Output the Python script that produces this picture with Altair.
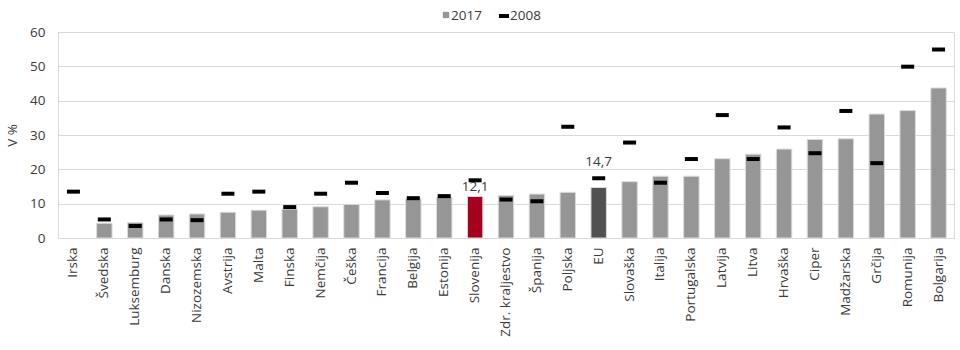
import altair as alt
import pandas as pd

countries = ["Irska", "Švedska", "Luksemburg", "Danska", "Nizozemska", "Avstrija", "Malta",
             "Finska", "Nemčija", "Češka", "Francija", "Belgija", "Estonija", "Slovenija",
             "Zdr. kraljestvo", "Španija", "Poljska", "EU", "Slovaška", "Italija", "Portugalska",
             "Latvija", "Litva", "Hrvaška", "Ciper", "Madžarska", "Grčija", "Romunija", "Bolgarija"]
v2017 = [None, 4.3, 4.5, 6.7, 7.0, 7.5, 8.1, 8.4, 9.1, 9.8, 11.1, 11.4, 11.9, 12.1,
         12.4, 12.8, 13.3, 14.7, 16.4, 18.0, 18.0, 23.1, 24.4, 25.9, 28.7, 28.9, 36.1, 37.1, 43.7]
v2008 = [13.5, 5.4, 3.5, 5.4, 5.2, 12.9, 13.5, 9.0, 12.9, 16.1, 13.1, 11.6, 12.2, 16.8,
         11.2, 10.7, 32.4, 17.4, 27.8, 16.1, 23.0, 35.8, 23.0, 32.2, 24.7, 37.0, 21.8, 49.9, 54.9]
y_ticks = [0, 10, 20, 30, 40, 50, 60]

df = pd.DataFrame({"country": countries, "v2017": v2017, "v2008": v2008})
df["label"] = df["v2017"].map(lambda v: "" if pd.isna(v) else f"{v:.1f}".replace(".", ","))

FONT = "Open Sans"
TXT = "#3a3a3a"

x_axis = alt.Axis(labelAngle=-90, labelFont=FONT, labelFontSize=13.5, labelColor=TXT,
                  ticks=False, domain=False, labelPadding=9, labelBaseline="middle")
x_scale = alt.Scale(paddingInner=0.5, paddingOuter=0.25)
y_axis = alt.Axis(values=y_ticks, labelFont=FONT, labelFontSize=13.5, labelColor=TXT,
                  ticks=False, domain=False, gridColor="#d9d9d9", labelPadding=13,
                  titleFont=FONT, titleFontSize=13.5, titleColor=TXT,
                  titleFontWeight="normal", titlePadding=10)
y_scale = alt.Scale(domain=[0, 60], nice=False)


def X():
    return alt.X("country:N", sort=countries, title=None, scale=x_scale, axis=x_axis)


def Y(field):
    return alt.Y(field, title="V %", scale=y_scale, axis=y_axis)


bar_color = (alt.when(alt.datum.country == "Slovenija").then(alt.value("#A5001E"))
             .when(alt.datum.country == "EU").then(alt.value("#515151"))
             .otherwise(alt.value("#969696")))

base = alt.Chart(df)
bars = base.mark_bar(stroke="#dcdcdc", strokeWidth=1).encode(x=X(), y=Y("v2017:Q"), color=bar_color)
ticks = base.mark_tick(color="#000000", size=13, thickness=4, opacity=1).encode(
    x=X(), y=Y("v2008:Q"))
lab_si = base.transform_filter(alt.datum.country == "Slovenija").mark_text(
    font=FONT, fontSize=13.5, color=TXT, baseline="bottom", dy=-2).encode(
    x=X(), y=Y("v2017:Q"), text="label:N")
lab_eu = base.transform_filter(alt.datum.country == "EU").mark_text(
    font=FONT, fontSize=13.5, color=TXT, baseline="bottom", dy=-19).encode(
    x=X(), y=Y("v2017:Q"), text="label:N")

leg_df = pd.DataFrame({"k": [0]})
leg = alt.Chart(leg_df)
leg_sq = leg.mark_square(color="#969696", size=40, opacity=1).encode(
    x=alt.value(388), y=alt.value(-17))
leg_t1 = leg.mark_text(font=FONT, fontSize=13.5, color=TXT, align="left", baseline="middle").encode(
    x=alt.value(393), y=alt.value(-16), text=alt.value("2017"))
leg_dash = leg.mark_rule(color="#000000", strokeWidth=4).encode(
    x=alt.value(441), x2=alt.value(451), y=alt.value(-16))
leg_t2 = leg.mark_text(font=FONT, fontSize=13.5, color=TXT, align="left", baseline="middle").encode(
    x=alt.value(452), y=alt.value(-16), text=alt.value("2008"))

chart = alt.layer(bars, ticks, lab_si, lab_eu, leg_sq, leg_t1, leg_dash, leg_t2).properties(
    width=896, height=206,
    autosize=alt.AutoSizeParams(type="none"),
    padding={"left": 58, "top": 32, "right": 6, "bottom": 112},
    background="white",
).configure_view(stroke="#d9d9d9", strokeWidth=1)

chart.save("out.html", embed_options={"renderer": "svg", "actions": False})
